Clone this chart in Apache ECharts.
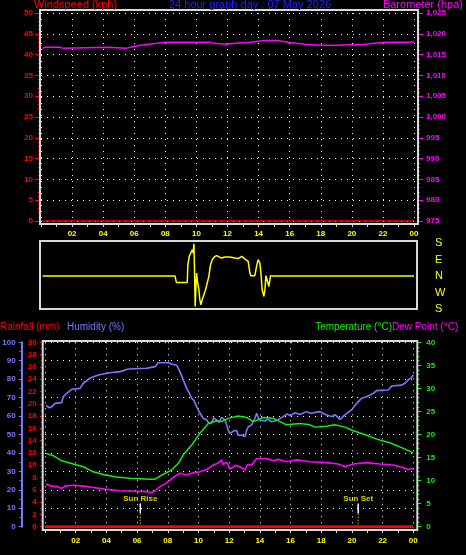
<!DOCTYPE html>
<html><head><meta charset="utf-8">
<script src="https://cdn.jsdelivr.net/npm/echarts@6/dist/echarts.min.js"></script>
<style>html,body{margin:0;padding:0;background:#000;}#c{width:466px;height:555px;}</style>
</head><body><div id="c"></div>
<script>
// ---------- DATA ----------
const titleText = '24 hour graph day : 07 May 2026';
const windspeed = [[0.1,0],[24,0]];
const barometer = [[0.1,1016.5],[0.25,1016.75],[1.2,1016.75],[1.25,1016.5],[1.45,1016.5],[1.5,1016.75],[4.3,1016.75],[4.35,1016.5],[5.45,1016.5],[5.5,1016.75],[5.9,1016.9],[6.4,1017.24],[6.9,1017.5],[7.45,1017.7],[8.0,1017.95],[10.85,1017.95],[11.1,1017.7],[12.0,1017.5],[12.45,1017.7],[13.45,1017.95],[13.95,1018.2],[14.4,1018.4],[15.25,1018.4],[15.5,1018.2],[15.9,1017.95],[16.45,1017.7],[17.0,1017.5],[17.95,1017.24],[19.0,1017.24],[19.1,1017.5],[20.9,1017.5],[21.4,1017.7],[22.25,1017.95],[23.3,1017.95],[23.4,1018.2],[23.6,1017.95],[24.0,1018.0]];
const windDir = [[0.1,0],[8.62,0],[8.71,-35],[9.41,-35],[9.45,62],[9.54,107],[9.65,115],[9.73,143],[9.79,125],[9.84,176],[9.88,18],[9.92,-166],[9.97,-57],[10.01,16],[10.08,-38],[10.16,-75],[10.22,-129],[10.29,-157],[10.37,-129],[10.48,-120],[10.59,-75],[10.69,-75],[10.80,-2],[10.91,62],[11.02,89],[11.15,104],[11.30,111],[11.47,104],[11.62,98],[11.83,104],[12.15,104],[12.48,98],[12.69,95],[12.91,107],[13.12,93],[13.33,80],[13.44,16],[13.5,2],[13.76,2],[13.87,53],[13.97,89],[14.08,71],[14.15,16],[14.23,-75],[14.34,-111],[14.41,-75],[14.47,2],[14.58,2],[14.66,-57],[14.73,-66],[14.77,2],[14.92,0],[24,0]];
const dirTickValues = [-180,-90,0,90,180];
const dirTickLabels = ['S','W','N','E','S'];
const rainfall = [[0,0],[24,0]];
const humidity = [[0.07,65.6],[0.3,64.5],[0.45,65.1],[0.65,66.9],[1.09,67.3],[1.19,70.5],[1.41,72.3],[1.74,74.5],[2.28,75.0],[2.5,77.8],[2.93,80.5],[3.47,82.3],[4.23,83.5],[4.89,84.1],[5.43,85.5],[6.62,85.9],[7.17,86.8],[7.38,88.9],[8.03,88.9],[8.25,88.2],[8.58,87.6],[8.79,84.1],[9.01,79.6],[9.23,75.0],[9.4,72.5],[9.56,69.6],[9.7,68.5],[9.88,65.1],[10.1,61.5],[10.31,58.8],[10.53,57.9],[10.7,56.0],[10.86,56.4],[11.0,59.0],[11.18,57.9],[11.35,56.5],[11.51,59.3],[11.73,57.9],[11.84,55.2],[11.94,52.4],[12.05,50.5],[12.16,49.7],[12.3,52.0],[12.49,52.1],[12.6,49.5],[12.81,49.7],[13.03,48.8],[13.15,52.5],[13.25,54.2],[13.47,55.2],[13.68,58.8],[13.79,61.5],[13.96,57.9],[14.33,57.3],[14.5,58.5],[14.77,56.9],[15.2,57.9],[15.52,59.7],[15.75,61.1],[16.0,60.2],[16.29,61.8],[16.6,60.8],[17.05,62.4],[17.3,61.5],[17.92,62.4],[18.35,60.6],[18.68,59.7],[18.9,60.8],[19.22,58.2],[19.54,60.6],[19.98,63.3],[20.31,66.9],[20.63,69.6],[20.96,70.5],[21.39,72.3],[21.61,73.8],[22.36,74.1],[22.59,76.3],[23.24,76.8],[23.45,77.8],[23.67,79.6],[23.89,81.0],[24.0,82.3]];
const temperature = [[0.07,15.9],[0.54,15.4],[1.09,14.3],[1.84,13.6],[2.5,13.0],[3.15,11.9],[3.91,11.2],[4.67,10.8],[5.54,10.5],[6.84,10.3],[7.17,10.3],[7.6,11.2],[8.25,12.3],[8.68,13.7],[9.01,15.6],[9.56,17.7],[10.1,20.3],[10.64,22.4],[11.18,23.0],[11.51,22.8],[11.94,23.5],[12.59,24.0],[13.14,23.7],[13.57,22.8],[14.22,23.7],[14.87,23.5],[15.31,22.8],[15.75,22.1],[16.61,22.4],[17.26,22.1],[17.59,21.6],[18.35,21.8],[18.89,22.1],[19.54,21.6],[20.09,20.8],[20.74,20.1],[21.61,19.0],[22.48,18.2],[23.34,17.0],[24.0,16.0]];
const dewPoint = [[0.07,9.2],[0.43,8.8],[0.8,8.7],[1.09,8.3],[1.3,8.8],[1.84,9.0],[2.5,8.8],[3.15,8.5],[4.02,8.1],[4.89,7.8],[5.75,7.7],[6.62,7.6],[6.95,7.4],[7.17,7.8],[7.49,8.7],[7.93,9.5],[8.36,10.7],[8.79,11.6],[9.23,11.2],[9.66,11.7],[10.1,11.9],[10.53,12.4],[10.97,13.4],[11.29,13.8],[11.51,14.5],[11.6,13.5],[11.73,13.2],[11.84,14.0],[12.0,12.7],[12.16,12.7],[12.4,13.3],[12.7,13.0],[13.03,12.3],[13.2,13.5],[13.47,13.4],[13.79,14.8],[14.44,14.8],[14.87,14.3],[15.2,14.6],[15.75,14.1],[16.4,14.5],[17.26,14.1],[18.35,13.9],[19.11,13.6],[19.54,13.0],[20.09,13.6],[20.96,13.9],[21.82,13.6],[22.69,13.4],[23.24,12.9],[23.67,12.4],[24.0,12.7]];
const sunTimes = [6.21, 20.41];
const sunLabels = ['Sun Rise', 'Sun Set'];

// ---------- STYLE ----------
const FONT = 'Liberation Sans, Arial, sans-serif';
const C = {red:'#ff0000', blue:'#2222ff', mag:'#ff00ff', yel:'#ffff00', hum:'#7878ff', grn:'#11ee11', frame:'#d8d8d8', grid:'#ffffff'};
const dotted = {color:C.grid, width:1, type:[1,5]};
const tickFont = {fontSize:8, fontFamily:FONT, fontWeight:'bold'};

function hourFmt(v){ if (v===24) return '00'; if (v===0 || v%2!==0) return ''; return (v<10?'0':'')+v; }

function xAxis(gi, offset, margin, show){
  return {type:'value', gridIndex:gi, min:0, max:24, interval:2, position:'bottom', offset:offset, show:show,
    axisLine:{show:false, onZero:false},
    axisTick:{show:true, length:3, lineStyle:{color:C.frame}},
    minorTick:{show:true, splitNumber:2, length:3, lineStyle:{color:C.frame}},
    axisLabel:Object.assign({show:true, color:C.yel, margin:margin, formatter:hourFmt, showMinLabel:true, showMaxLabel:true, hideOverlap:false}, tickFont),
    splitLine:{show:true, lineStyle:dotted}, minorSplitLine:{show:false}};
}
function yAxis(gi, o){
  const base = {type:'value', gridIndex:gi, axisLine:{show:false, onZero:false}, splitLine:{show:false}};
  const r = Object.assign(base, o);
  if (r.axisLine) r.axisLine.onZero = false;
  return r;
}

const chart = echarts.init(document.getElementById('c'), null, {renderer:'canvas'});
const option = {
  backgroundColor:'#000',
  animation:false,
  grid:[
    {left:41, top:13, width:373, height:208, outerBoundsMode:'none'},
    {left:41, top:243, width:373, height:66, outerBoundsMode:'none'},
    {left:45, top:342.3, width:368.3, height:184.4, outerBoundsMode:'none'}
  ],
  xAxis:[ xAxis(0,3,6,true), Object.assign(xAxis(1,0,6,false),{splitLine:{show:false}}), xAxis(2,3.3,7,true) ],
  yAxis:[
    yAxis(0,{min:0,max:50,interval:5,position:'left',offset:1,
      axisTick:{show:true,length:5,lineStyle:{color:C.red}},
      minorTick:{show:true,splitNumber:5,length:2,lineStyle:{color:C.red}},
      axisLabel:Object.assign({color:C.red,margin:7},tickFont),
      splitLine:{show:true,lineStyle:dotted}}),
    yAxis(0,{min:975,max:1025,interval:5,position:'right',offset:4,
      axisTick:{show:true,length:5,lineStyle:{color:C.mag}},
      minorTick:{show:true,splitNumber:5,length:2,lineStyle:{color:C.mag}},
      axisLabel:Object.assign({color:C.mag,margin:8},tickFont)}),
    yAxis(1,{min:-180,max:180,interval:90,position:'right',offset:0,
      axisTick:{show:false},
      axisLabel:{color:C.yel,fontSize:11,fontFamily:FONT,margin:21,
        formatter:function(v){const i=dirTickValues.indexOf(v);return i>=0?dirTickLabels[i]:'';}}}),
    yAxis(2,{min:0,max:100,interval:10,position:'left',offset:23.3,
      axisLine:{show:true,onZero:false,lineStyle:{color:C.hum,width:2}},
      axisTick:{show:true,length:3,lineStyle:{color:C.hum}},
      minorTick:{show:true,splitNumber:2,length:2,lineStyle:{color:C.hum}},
      axisLabel:Object.assign({color:C.hum,margin:6},tickFont),
      splitLine:{show:true,lineStyle:dotted}}),
    yAxis(2,{min:0,max:30,interval:2,position:'left',offset:2.3,
      axisTick:{show:true,length:3,lineStyle:{color:C.red}},
      minorTick:{show:true,splitNumber:2,length:2,lineStyle:{color:C.red}},
      axisLabel:Object.assign({color:C.red,margin:6},tickFont)}),
    yAxis(2,{min:0,max:40,interval:5,position:'right',offset:4,
      axisTick:{show:true,length:4,lineStyle:{color:C.grn}},
      minorTick:{show:true,splitNumber:5,length:2,lineStyle:{color:C.grn}},
      axisLabel:Object.assign({color:C.grn,margin:9},tickFont)})
  ],
  series:[
    {type:'line',xAxisIndex:0,yAxisIndex:0,data:windspeed,showSymbol:false,lineStyle:{color:C.red,width:1.5},z:3},
    {type:'line',xAxisIndex:0,yAxisIndex:1,data:barometer,showSymbol:false,lineStyle:{color:C.mag,width:1.5},z:3},
    {type:'line',xAxisIndex:1,yAxisIndex:2,data:windDir,showSymbol:false,lineStyle:{color:C.yel,width:1.5},z:3},
    {type:'line',xAxisIndex:2,yAxisIndex:4,data:rainfall,showSymbol:false,lineStyle:{color:C.red,width:3},z:4},
    {type:'line',xAxisIndex:2,yAxisIndex:3,data:humidity,showSymbol:false,lineStyle:{color:C.hum,width:1.6},z:3},
    {type:'line',xAxisIndex:2,yAxisIndex:5,data:temperature,showSymbol:false,lineStyle:{color:C.grn,width:1.5},z:3},
    {type:'line',xAxisIndex:2,yAxisIndex:5,data:dewPoint,showSymbol:false,lineStyle:{color:C.mag,width:1.6},z:3}
  ].concat(sunTimes.flatMap(function(t,i){
    return [
      {type:'line',xAxisIndex:2,yAxisIndex:3,data:[[t,0],[t,7.3]],showSymbol:false,lineStyle:{color:C.yel,width:1,type:[1,2]},z:2},
      {type:'line',xAxisIndex:2,yAxisIndex:3,data:[[t,7.3],[t,12.6]],showSymbol:false,lineStyle:{color:'#ffffff',width:1.5},z:2},
      {type:'scatter',xAxisIndex:2,yAxisIndex:3,data:[[t,12.6]],symbolSize:0,z:5,
        label:Object.assign({show:true,position:'top',distance:1,formatter:sunLabels[i],color:C.yel},tickFont)}
    ];
  })),
  graphic:[
    {type:'rect',shape:{x:40,y:10,width:378,height:214},style:{fill:null,stroke:C.frame,lineWidth:2},z:10},
    {type:'rect',shape:{x:40,y:241,width:377,height:68},style:{fill:null,stroke:C.frame,lineWidth:2},z:10},
    {type:'rect',shape:{x:42.7,y:341,width:374.6,height:189},style:{fill:null,stroke:C.frame,lineWidth:2},z:10},
    {type:'text',x:34,y:5,style:{text:'Windspeed (kph)',fill:C.red,font:'11px '+FONT,textVerticalAlign:'middle'},z:10},
    {type:'text',x:250,y:5,style:{text:titleText,fill:C.blue,font:'11px '+FONT,textAlign:'center',textVerticalAlign:'middle'},z:10},
    {type:'text',x:463,y:5,style:{text:'Barometer (hpa)',fill:C.mag,font:'11px '+FONT,textAlign:'right',textVerticalAlign:'middle'},z:10},
    {type:'text',x:0,y:327,style:{text:'Rainfall (mm)',fill:C.red,font:'10px '+FONT,textVerticalAlign:'middle'},z:10},
    {type:'text',x:67,y:327,style:{text:'Humidity (%)',fill:C.hum,font:'10px '+FONT,textVerticalAlign:'middle'},z:10},
    {type:'text',x:392,y:327,style:{text:'Temperature (°C)',fill:C.grn,font:'10px '+FONT,textAlign:'right',textVerticalAlign:'middle'},z:10},
    {type:'text',x:392,y:327,style:{text:'Dew Point (°C)',fill:C.mag,font:'10px '+FONT,textVerticalAlign:'middle'},z:10}
  ]
};
chart.setOption(option);
</script>
</body></html>
